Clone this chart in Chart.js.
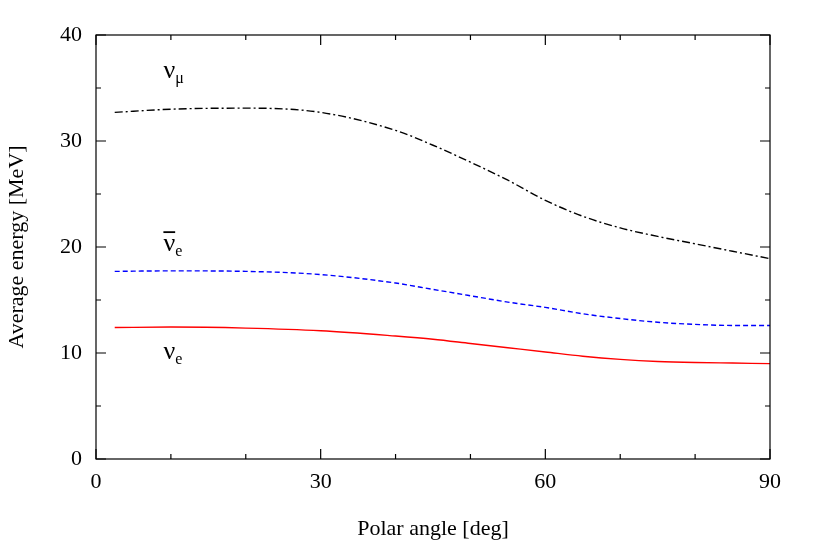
<!DOCTYPE html>
<html><head><meta charset="utf-8">
<script src="https://cdn.jsdelivr.net/npm/chart.js@4/dist/chart.umd.min.js"></script>
<style>html,body{margin:0;padding:0;background:#fff}#w{width:830px;height:546px}</style>
</head><body><div id="w"><canvas id="c"></canvas></div>
<script>
const angles=[2.5,10,20,30,40,45,50,55,60,65,70,75,80,85,90];
const numu=[32.7,33.0,33.1,32.7,31.0,29.6,28.0,26.3,24.4,22.9,21.8,21.0,20.3,19.6,18.9];
const nuebar=[17.7,17.75,17.7,17.4,16.6,16.0,15.4,14.8,14.3,13.7,13.25,12.9,12.7,12.6,12.6];
const nue=[12.4,12.45,12.35,12.1,11.6,11.3,10.9,10.5,10.1,9.7,9.4,9.2,9.1,9.05,9.0];
const xTicks=[0,30,60,90];
const yTicks=[0,10,20,30,40];
const pts=a=>angles.map((x,i)=>({x,y:a[i]}));
const F='"Liberation Serif", serif';
const deco={id:'deco',afterDraw(ch){
 const c=ch.ctx,a=ch.chartArea,xs=ch.scales.x,ys=ch.scales.y;
 c.save();c.strokeStyle='#000';c.lineWidth=1.2;
 c.strokeRect(a.left,a.top,a.right-a.left,a.bottom-a.top);
 c.beginPath();
 for(let v=0;v<=90;v+=10){const p=xs.getPixelForValue(v),L=v%30===0?10:5;
  c.moveTo(p,a.bottom);c.lineTo(p,a.bottom-L);c.moveTo(p,a.top);c.lineTo(p,a.top+L);}
 for(let v=0;v<=40;v+=5){const p=ys.getPixelForValue(v),L=v%10===0?10:5;
  c.moveTo(a.left,p);c.lineTo(a.left+L,p);c.moveTo(a.right,p);c.lineTo(a.right-L,p);}
 c.stroke();
 c.fillStyle='#000';c.textBaseline='alphabetic';
 function lab(x,y,sub,bar){const px=xs.getPixelForValue(x),py=ys.getPixelForValue(y);
  c.font='26px '+F;c.fillText('ν',px,py);const w=c.measureText('ν').width;
  if(bar){c.fillRect(px,py-20,w,1.8);}
  c.font='16px '+F;c.fillText(sub,px+w,py+5);}
 lab(9.0,35.9,'μ',false);lab(9.0,19.6,'e',true);lab(9.0,9.4,'e',false);
 c.restore();}};
new Chart(document.getElementById('c'),{type:'line',
 data:{datasets:[
  {data:pts(numu),borderColor:'#000',borderWidth:1.4,borderDash:[8,3,2,3]},
  {data:pts(nuebar),borderColor:'#0000ff',borderWidth:1.4,borderDash:[5,3]},
  {data:pts(nue),borderColor:'#ff0000',borderWidth:1.4}]},
 options:{responsive:true,maintainAspectRatio:false,animation:false,
  elements:{point:{radius:0},line:{tension:0.4,cubicInterpolationMode:'monotone'}},
  layout:{padding:{top:35,right:60,left:0,bottom:0}},
  plugins:{legend:{display:false},tooltip:{enabled:false}},
  scales:{
   x:{type:'linear',min:0,max:90,afterFit:s=>{s.height=87},
    afterBuildTicks:s=>{s.ticks=xTicks.map(v=>({value:v}))},
    grid:{display:false},border:{display:false},
    ticks:{color:'#000',font:{family:F,size:22},padding:2,maxRotation:0},
    title:{display:true,text:'Polar angle [deg]',color:'#000',font:{family:F,size:22},padding:{top:14}}},
   y:{min:0,max:40,afterFit:s=>{s.width=96},
    afterBuildTicks:s=>{s.ticks=yTicks.map(v=>({value:v}))},
    grid:{display:false},border:{display:false},
    ticks:{color:'#000',font:{family:F,size:22},padding:6},
    title:{display:true,text:'Average energy [MeV]',color:'#000',font:{family:F,size:22},padding:{bottom:6}}}}},
 plugins:[deco]});
</script></body></html>
